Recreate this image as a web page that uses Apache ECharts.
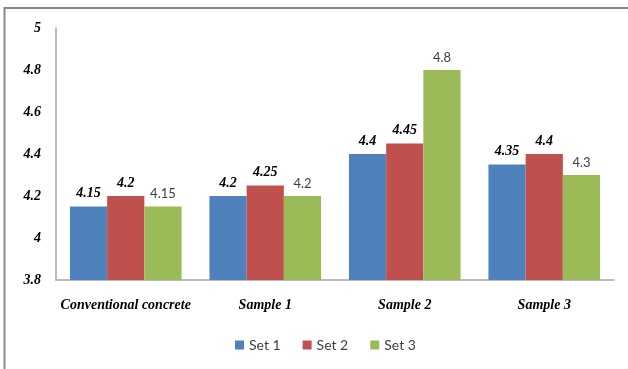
<!DOCTYPE html>
<html>
<head>
<meta charset="utf-8">
<script src="https://cdn.jsdelivr.net/npm/echarts@6/dist/echarts.min.js"></script>
<style>
  html, body { margin: 0; padding: 0; background: #fff; }
  #chart { width: 628px; height: 369px; }
</style>
</head>
<body>
<div id="chart"></div>
<script>
// Categories and series values
var categories = ['Conventional concrete', 'Sample 1', 'Sample 2', 'Sample 3'];
var set1 = [4.15, 4.2, 4.4, 4.35];
var set2 = [4.2, 4.25, 4.45, 4.4];
var set3 = [4.15, 4.2, 4.8, 4.3];
var seriesNames = ['Set 1', 'Set 2', 'Set 3'];
var yTicks = { min: 3.8, max: 5, step: 0.2 };

var serifBold = {
  fontFamily: 'Liberation Serif',
  fontStyle: 'italic',
  fontWeight: 'bold',
  fontSize: 14,
  color: '#000'
};
var sansPlain = {
  fontFamily: 'Lato',
  fontSize: 13,
  color: '#404040'
};

function bar(name, data, color, labelStyle) {
  return {
    name: name,
    type: 'bar',
    data: data,
    barGap: '0%',
    barCategoryGap: '20%',
    itemStyle: { color: color },
    label: Object.assign({ show: true, position: 'top', distance: 6 }, labelStyle)
  };
}

var chart = echarts.init(document.getElementById('chart'));
chart.setOption({
  animation: false,
  backgroundColor: '#fff',
  graphic: [{
    type: 'polyline',
    shape: { points: [[4.5, 369], [4.5, 8], [628, 8]] },
    style: { stroke: '#8a8a8a', lineWidth: 2, fill: null }
  }],
  grid: { left: 56, right: 14, top: 28, bottom: 89 },
  legend: {
    bottom: 12,
    left: 230,
    itemWidth: 9,
    itemHeight: 9,
    itemGap: 22,
    icon: 'rect',
    textStyle: { fontFamily: 'Lato', fontSize: 14, color: '#404040' },
    data: seriesNames
  },
  xAxis: {
    type: 'category',
    data: categories,
    axisLine: { lineStyle: { color: '#a6a6a6', width: 1.5 } },
    axisTick: { show: false },
    axisLabel: Object.assign({ margin: 18, interval: 0 }, serifBold)
  },
  yAxis: {
    type: 'value',
    min: yTicks.min,
    max: yTicks.max,
    interval: yTicks.step,
    axisLine: { show: true, lineStyle: { color: '#a6a6a6', width: 1.5 } },
    axisTick: { show: false },
    splitLine: { show: false },
    axisLabel: Object.assign({ margin: 15 }, serifBold)
  },
  series: [
    bar(seriesNames[0], set1, '#4F81BD', serifBold),
    bar(seriesNames[1], set2, '#C0504D', serifBold),
    bar(seriesNames[2], set3, '#9BBB59', sansPlain)
  ]
});
</script>
</body>
</html>
